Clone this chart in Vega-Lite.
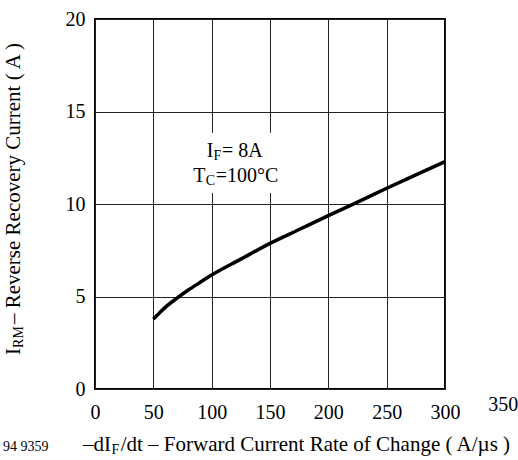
{
  "$schema": "https://vega.github.io/schema/vega-lite/v6.json",
  "width": 350,
  "height": 370,
  "autosize": {"type": "none"},
  "padding": {"left": 95, "top": 19, "right": 73, "bottom": 71},
  "background": "white",
  "config": {
    "view": {"stroke": "black", "strokeWidth": 2},
    "font": "Liberation Serif",
    "text": {"font": "Liberation Serif", "color": "black"},
    "axis": {
      "grid": true,
      "gridColor": "#222222",
      "gridWidth": 1,
      "domain": false,
      "ticks": false,
      "tickSize": 0,
      "labelFont": "Liberation Serif",
      "labelFontSize": 20,
      "labelColor": "black",
      "labelFlush": false,
      "labelOverlap": false
    }
  },
  "layer": [
    {
      "data": {"values": [{"x": 84, "x2": 176, "y": 10.6, "y2": 13.85}]},
      "mark": {"type": "rect", "fill": "white", "stroke": null},
      "encoding": {
        "x": {"field": "x", "type": "quantitative", "title": null, "scale": {"domain": [0, 300], "nice": false},
              "axis": {"values": [0, 50, 100, 150, 200, 250, 300], "labelPadding": 13, "title": null,
                       "labelFont": "Liberation Serif", "labelFontSize": 20, "labelColor": "black"}},
        "x2": {"field": "x2"},
        "y": {"field": "y", "type": "quantitative", "title": null, "scale": {"domain": [0, 20], "nice": false},
              "axis": {"values": [0, 5, 10, 15, 20], "labelPadding": 10, "title": null,
                       "labelFont": "Liberation Serif", "labelFontSize": 20, "labelColor": "black"}},
        "y2": {"field": "y2"}
      }
    },
    {
      "data": {"values": [
        {"x": 50, "y": 3.78}, {"x": 55, "y": 4.1}, {"x": 60, "y": 4.4}, {"x": 70, "y": 4.9},
        {"x": 80, "y": 5.35}, {"x": 90, "y": 5.76}, {"x": 100, "y": 6.16}, {"x": 125, "y": 7.02},
        {"x": 150, "y": 7.87}, {"x": 175, "y": 8.62}, {"x": 200, "y": 9.37}, {"x": 225, "y": 10.1},
        {"x": 250, "y": 10.85}, {"x": 275, "y": 11.57}, {"x": 300, "y": 12.29}
      ]},
      "mark": {"type": "line", "color": "black", "strokeWidth": 3.5, "interpolate": "monotone", "strokeCap": "butt"},
      "encoding": {
        "x": {"field": "x", "type": "quantitative", "title": null},
        "y": {"field": "y", "type": "quantitative", "title": null}
      }
    },
    {
      "data": {"values": [
        {"x": 95.7, "y": 12.56, "t": "I"},
        {"x": 108.9, "y": 12.56, "t": "= 8A"},
        {"x": 84.3, "y": 11.17, "t": "T"},
        {"x": 103.4, "y": 11.17, "t": "=100°C"}
      ]},
      "mark": {"type": "text", "fontSize": 20, "align": "left", "baseline": "alphabetic"},
      "encoding": {
        "x": {"field": "x", "type": "quantitative", "title": null},
        "y": {"field": "y", "type": "quantitative", "title": null},
        "text": {"field": "t"}
      }
    },
    {
      "data": {"values": [
        {"x": 101.5, "y": 12.4, "t": "F"},
        {"x": 95.0, "y": 11.01, "t": "C"}
      ]},
      "mark": {"type": "text", "fontSize": 14, "align": "left", "baseline": "alphabetic"},
      "encoding": {
        "x": {"field": "x", "type": "quantitative", "title": null},
        "y": {"field": "y", "type": "quantitative", "title": null},
        "text": {"field": "t"}
      }
    },
    {
      "data": {"values": [
        {"x": -10.3, "y": -3.35, "t": "–dI"},
        {"x": 22.0, "y": -3.35, "t": "/dt – Forward Current Rate of Change ( A/µs )"}
      ]},
      "mark": {"type": "text", "fontSize": 21, "align": "left", "baseline": "alphabetic"},
      "encoding": {
        "x": {"field": "x", "type": "quantitative", "title": null},
        "y": {"field": "y", "type": "quantitative", "title": null},
        "text": {"field": "t"}
      }
    },
    {
      "data": {"values": [
        {"x": 14.1, "y": -3.5, "t": "F"},
        {"x": -78.9, "y": -3.35, "t": "94 9359"}
      ]},
      "mark": {"type": "text", "fontSize": 14, "align": "left", "baseline": "alphabetic"},
      "encoding": {
        "x": {"field": "x", "type": "quantitative", "title": null},
        "y": {"field": "y", "type": "quantitative", "title": null},
        "text": {"field": "t"}
      }
    },
    {
      "data": {"values": [
        {"x": -64.3, "y": 1.84, "t": "I"},
        {"x": -64.3, "y": 3.51, "t": "– Reverse Recovery Current ( A )"}
      ]},
      "mark": {"type": "text", "fontSize": 21, "align": "left", "baseline": "alphabetic", "angle": 270},
      "encoding": {
        "x": {"field": "x", "type": "quantitative", "title": null},
        "y": {"field": "y", "type": "quantitative", "title": null},
        "text": {"field": "t"}
      }
    },
    {
      "data": {"values": [
        {"x": -61.7, "y": 2.22, "t": "RM"}
      ]},
      "mark": {"type": "text", "fontSize": 14, "align": "left", "baseline": "alphabetic", "angle": 270},
      "encoding": {
        "x": {"field": "x", "type": "quantitative", "title": null},
        "y": {"field": "y", "type": "quantitative", "title": null},
        "text": {"field": "t"}
      }
    },
    {
      "data": {"values": [
        {"x": 350, "y": -1.19, "t": "350"}
      ]},
      "mark": {"type": "text", "fontSize": 20, "align": "center", "baseline": "alphabetic"},
      "encoding": {
        "x": {"field": "x", "type": "quantitative", "title": null},
        "y": {"field": "y", "type": "quantitative", "title": null},
        "text": {"field": "t"}
      }
    }
  ]
}
